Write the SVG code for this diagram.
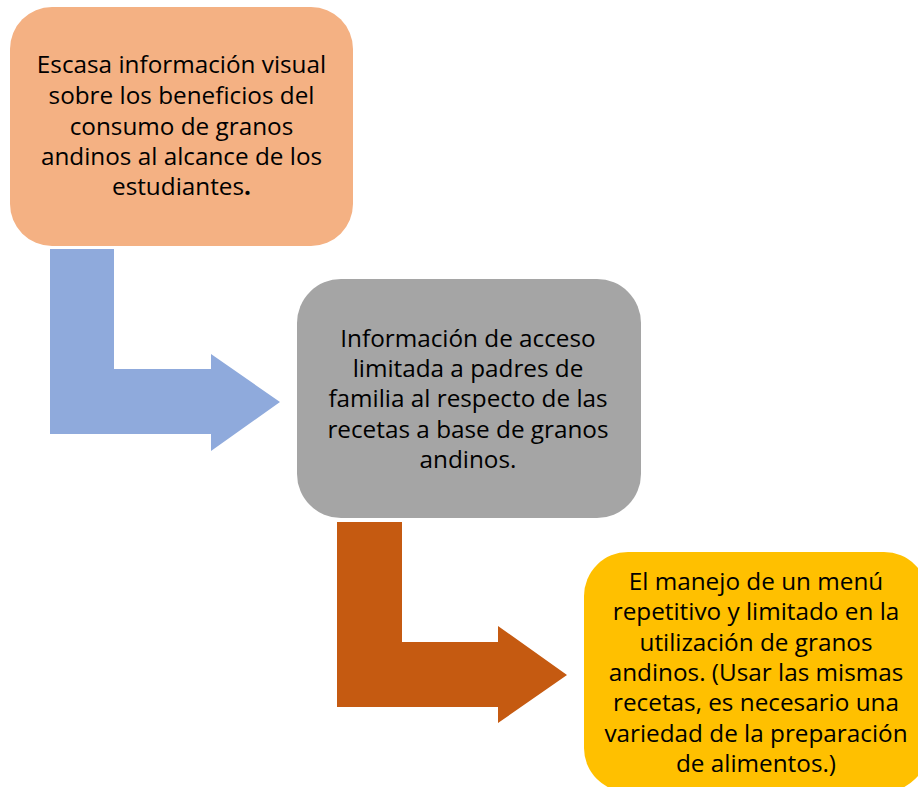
<svg xmlns="http://www.w3.org/2000/svg" width="918" height="787" viewBox="0 0 918 787">
<style>
.t{font-family:"Open Sans","Liberation Sans",sans-serif;font-size:24.3px;fill:#000;text-anchor:middle}
</style>
<rect width="918" height="787" fill="#fff"/>
<g id="connectors">
<path id="arrow1" d="M50,249 H114 V369 H211 V354 L280,402 L211,451 V434 H50 Z" fill="#8FAADC"/>
<path id="arrow2" d="M337,522 H402 V642 H498 V626 L567,675 L498,723 V707 H337 Z" fill="#C55A11"/>
</g>
<g id="node1">
<rect x="10" y="7" width="343" height="239" rx="42" fill="#F4B183"/>
<text class="t" x="181.5" y="73">Escasa información visual</text>
<text class="t" x="181.5" y="104">sobre los beneficios del</text>
<text class="t" x="181.5" y="134.5">consumo de granos</text>
<text class="t" x="181.5" y="165">andinos al alcance de los</text>
<text class="t" x="181.5" y="195">estudiantes<tspan font-weight="bold">.</tspan></text>
</g>
<g id="node2">
<rect x="297" y="279" width="344" height="239" rx="44" fill="#A5A5A5"/>
<text class="t" x="468" y="347">Información de acceso</text>
<text class="t" x="468" y="377">limitada a padres de</text>
<text class="t" x="468" y="407">familia al respecto de las</text>
<text class="t" x="468" y="438">recetas a base de granos</text>
<text class="t" x="468" y="468">andinos.</text>
</g>
<g id="node3">
<rect x="584" y="552" width="344" height="240" rx="44" fill="#FFC000"/>
<text class="t" x="756" y="590">El manejo de un menú</text>
<text class="t" x="756" y="620">repetitivo y limitado en la</text>
<text class="t" x="756" y="651">utilización de granos</text>
<text class="t" x="756" y="681">andinos. (Usar las mismas</text>
<text class="t" x="756" y="711">recetas, es necesario una</text>
<text class="t" x="756" y="742">variedad de la preparación</text>
<text class="t" x="756" y="772">de alimentos.)</text>
</g>
</svg>
